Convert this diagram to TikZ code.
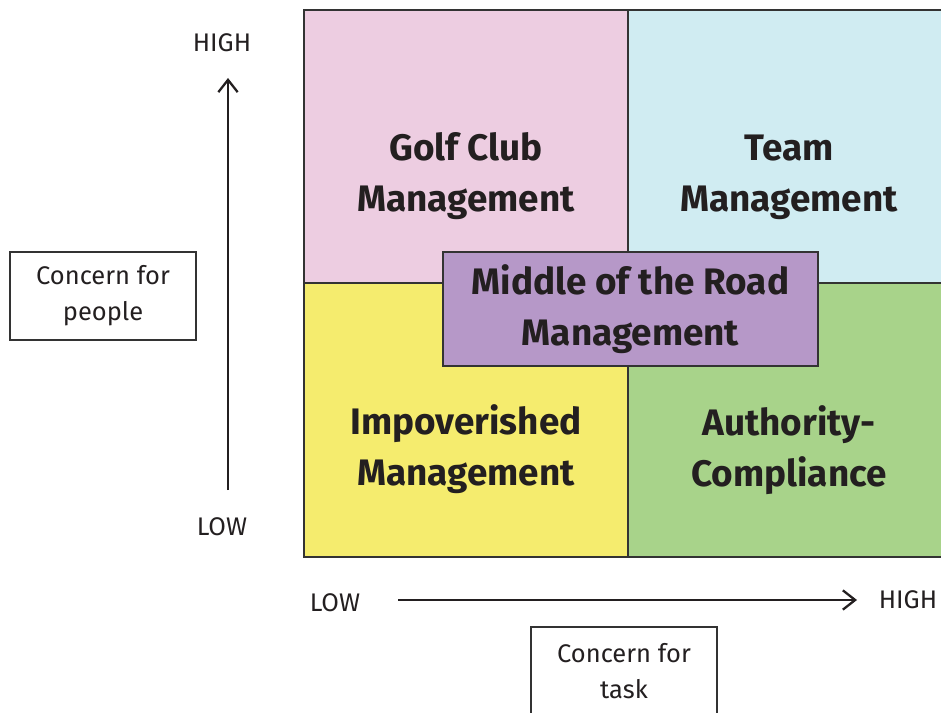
\documentclass[tikz,border=0pt]{standalone}
\usepackage{fontspec}
\setmainfont{Fira Sans}
\usetikzlibrary{arrows.meta,positioning}

\definecolor{ink}{HTML}{231F20}
\definecolor{edge}{HTML}{333333}
\definecolor{golfpink}{HTML}{EDCDE1}
\definecolor{teamblue}{HTML}{D0ECF2}
\definecolor{impyellow}{HTML}{F5EC6E}
\definecolor{authgreen}{HTML}{A8D38A}
\definecolor{midpurple}{HTML}{B698C8}

\begin{document}
\begin{tikzpicture}[x=0.02cm, y=-0.02cm]
    \tikzset{
        quad/.style = {draw=edge, line width=0.9pt},
        title/.style = {font=\fontsize{21}{29}\selectfont\bfseries, text=ink, align=center},
        label/.style = {font=\fontsize{14.5}{20.5}\selectfont, text=ink, align=center},
        axisbox/.style = {rectangle, draw=edge, line width=0.9pt, minimum width=3.72cm, minimum height=1.76cm, label},
        line/.style = {draw=ink, line width=1.4pt, -{Straight Barb[length=7pt, width=11pt, line width=1.3pt]}},
    }
    \useasboundingbox (0,0) rectangle (941,713);

    % quadrants
    \fill[golfpink] (304,10) rectangle (628,283);
    \fill[teamblue] (628,10) rectangle (942,283);
    \fill[impyellow] (304,283) rectangle (628,557);
    \fill[authgreen] (628,283) rectangle (942,557);
    \draw[quad] (942,10) -- (304,10) -- (304,557) -- (942,557);
    \draw[quad] (628,10) -- (628,557);
    \draw[quad] (304,283) -- (942,283);

    \node[title](golf) at (466,176){Golf Club\\Management};
    \node[title](team) at (789,177){Team\\Management};
    \node[title](impov) at (466,449){Impoverished\\Management};
    \node[title](authority) at (789,450){Authority-\\Compliance};

    \node[title, rectangle, draw=edge, line width=0.9pt, fill=midpurple, minimum width=7.5cm, minimum height=2.28cm](middle) at (630.5,309){Middle of the Road\\Management};

    % people axis
    \node[label](yhigh) at (222,43){HIGH};
    \node[label](ylow) at (222,527){LOW};
    \coordinate (ytail) at (228,490);
    \coordinate (yhead) at (228,78);
    \node[axisbox](people) at (103,296){Concern for\\people};

    % task axis
    \node[label](xlow) at (335,603){LOW};
    \node[label](xhigh) at (908,600){HIGH};
    \coordinate (xtail) at (398,600);
    \coordinate (xhead) at (857,600);
    \node[axisbox](task) at (624,671){Concern for\\task};

    \path [line] (ytail) -- (yhead);
    \path [line] (xtail) -- (xhead);

\end{tikzpicture}
\end{document}
